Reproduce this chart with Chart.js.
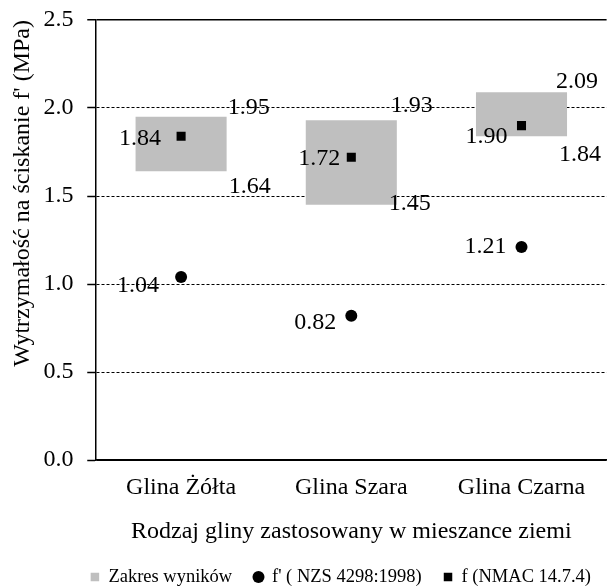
<!DOCTYPE html>
<html>
<head>
<meta charset="utf-8">
<script src="https://cdn.jsdelivr.net/npm/chart.js@4"></script>
<style>
  html, body { margin: 0; padding: 0; background: #fff; }
  #wrap { width: 613px; height: 587px; }
</style>
</head>
<body>
<div id="wrap"><canvas id="myChart"></canvas></div>
<script>
// constants
const FONT = "'Liberation Serif', 'Times New Roman', serif";
const COLOR_RANGE = "#bfbfbf";
const COLOR_MARK = "#000000";

// data
const categories = ["Glina Żółta", "Glina Szara", "Glina Czarna"];
const rangeLow = [1.64, 1.45, 1.84];
const rangeHigh = [1.95, 1.93, 2.09];
const nzsValues = [1.04, 0.82, 1.21];
const nmacValues = [1.84, 1.72, 1.90];
const yTicks = [0, 0.5, 1.0, 1.5, 2.0, 2.5];

// label placement [dx, dy] in px from the anchor, one per category
const highLabelPos = [[1, -9], [-6, -15], [-11, -10]];   // from bar right edge, left aligned
const lowLabelPos = [[2, 15], [-8, -1], [-8, 19]];
const nmacLabelPos = [[-20, 3], [-11, 1], [-14, 11]];    // from point, right aligned
const nzsLabelPos = [[-22, 9], [-15, 7], [-15, 0]];

// draws the numbers next to the marks
const valueLabels = {
  id: 'valueLabels',
  afterDatasetsDraw(chart) {
    const ctx = chart.ctx;
    const y = chart.scales.y;
    const bars = chart.getDatasetMeta(0).data;
    const nzsPts = chart.getDatasetMeta(1).data;
    const nmacPts = chart.getDatasetMeta(2).data;
    ctx.save();
    ctx.font = '24px ' + FONT;
    ctx.fillStyle = COLOR_MARK;
    ctx.textBaseline = 'middle';
    bars.forEach((bar, i) => {
      const right = bar.x + bar.width / 2;
      ctx.textAlign = 'left';
      ctx.fillText(rangeHigh[i].toFixed(2), right + highLabelPos[i][0], y.getPixelForValue(rangeHigh[i]) + highLabelPos[i][1]);
      ctx.fillText(rangeLow[i].toFixed(2), right + lowLabelPos[i][0], y.getPixelForValue(rangeLow[i]) + lowLabelPos[i][1]);
      ctx.textAlign = 'right';
      ctx.fillText(nmacValues[i].toFixed(2), nmacPts[i].x + nmacLabelPos[i][0], nmacPts[i].y + nmacLabelPos[i][1]);
      ctx.fillText(nzsValues[i].toFixed(2), nzsPts[i].x + nzsLabelPos[i][0], nzsPts[i].y + nzsLabelPos[i][1]);
    });
    ctx.restore();
  }
};

Chart.defaults.font.family = FONT;
Chart.defaults.color = COLOR_MARK;

const ctx = document.getElementById('myChart').getContext('2d');
const chart = new Chart(ctx, {
  data: {
    labels: categories,
    datasets: [
      {
        type: 'bar',
        label: 'Zakres wyników',
        data: categories.map((c, i) => [rangeLow[i], rangeHigh[i]]),
        backgroundColor: COLOR_RANGE,
        borderWidth: 0,
        barPercentage: 0.535,
        categoryPercentage: 1,
        pointStyle: 'rect',
        order: 3,
      },
      {
        type: 'line',
        label: "f' ( NZS 4298:1998)",
        data: nzsValues,
        showLine: false,
        pointStyle: 'circle',
        pointRadius: 6,
        backgroundColor: COLOR_MARK,
        borderColor: COLOR_MARK,
        borderWidth: 0,
        order: 1,
      },
      {
        type: 'line',
        label: 'f (NMAC 14.7.4)',
        data: nmacValues,
        showLine: false,
        pointStyle: 'rect',
        pointRadius: 6.4,
        backgroundColor: COLOR_MARK,
        borderColor: COLOR_MARK,
        borderWidth: 0,
        order: 2,
      },
    ],
  },
  options: {
    responsive: true,
    maintainAspectRatio: false,
    animation: false,
    layout: { padding: { top: 20, right: 0, left: 0, bottom: -9.25 } },
    scales: {
      x: {
        offset: true,
        grid: { display: false, drawTicks: false },
        border: { display: true, color: COLOR_MARK, width: 1.5 },
        ticks: { font: { size: 24 }, padding: 13 },
        title: {
          display: true,
          text: 'Rodzaj gliny zastosowany w mieszance ziemi',
          font: { size: 24 },
          padding: { top: 0, bottom: 0 },
        },
        afterFit: (axis) => { axis.height = 85.75; },
      },
      y: {
        min: 0,
        max: 2.5,
        afterBuildTicks: (axis) => { axis.ticks = yTicks.map(v => ({ value: v })); },
        grid: {
          color: COLOR_MARK,
          lineWidth: (c) => (c.tick && c.tick.value === 2.5) ? 1.5 : 1,
          tickLength: 17,
          tickColor: COLOR_MARK,
          tickWidth: 1.5,
          // only the inner 8px of the tick mark is visible
          tickBorderDash: [8, 8.25],
          tickBorderDashOffset: 8,
        },
        border: {
          display: true,
          color: COLOR_MARK,
          width: 1.5,
          dash: (c) => (c.tick && (c.tick.value === 2.5 || c.tick.value === 0)) ? [] : [3, 2],
        },
        ticks: {
          font: { size: 24 },
          padding: 5.6,
          callback: (v) => Number(v).toFixed(1),
        },
        title: {
          display: true,
          align: 'end',
          text: "Wytrzymałość na ściskanie f' (MPa)",
          font: { size: 24 },
          padding: { top: 8, bottom: 0 },
        },
        afterFit: (axis) => { axis.width = 96; },
      },
    },
    plugins: {
      tooltip: { enabled: false },
      legend: {
        display: true,
        position: 'bottom',
        align: 'end',
        labels: {
          usePointStyle: true,
          boxWidth: 8.5,
          boxHeight: 8.5,
          padding: 22,
          color: COLOR_MARK,
          font: { size: 18.5 },
          sort: (a, b) => a.datasetIndex - b.datasetIndex,
        },
      },
    },
  },
  plugins: [valueLabels],
});
</script>
</body>
</html>
